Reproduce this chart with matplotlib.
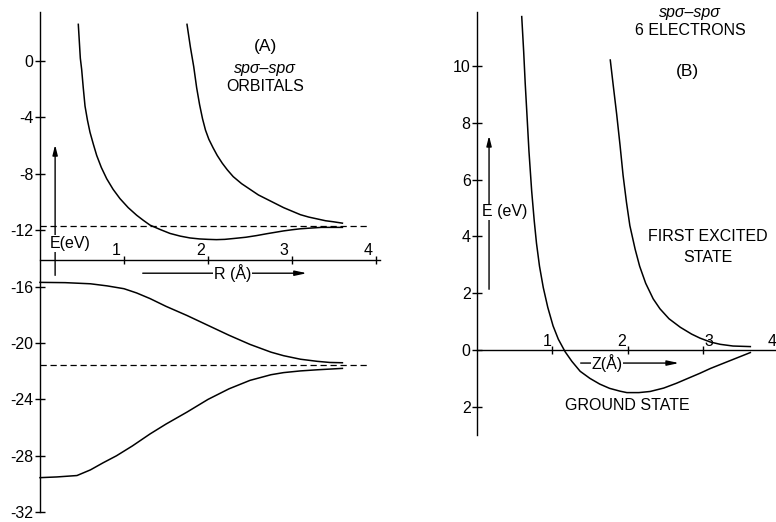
import matplotlib
matplotlib.use('Agg')
import matplotlib.pyplot as plt

plt.rcParams['font.family'] = ['Liberation Sans', 'DejaVu Sans']

# ---- panel A: spσ-spσ orbitals, E(eV) vs R(Å)
a_bond_up_r = [0.456, 0.47, 0.48, 0.496, 0.515, 0.536, 0.565, 0.595, 0.635, 0.675,
               0.73, 0.794, 0.87, 0.952, 1.05, 1.151, 1.23, 1.31, 1.43, 1.548,
               1.67, 1.786, 1.9, 2.0, 2.1, 2.2, 2.32, 2.45, 2.58, 2.7, 2.8, 2.9,
               3.0, 3.1, 3.22, 3.35, 3.48, 3.6]
a_bond_up_e = [2.6, 1.2, 0.2, -0.6, -1.9, -3.2, -4.2, -5.05, -5.9, -6.7,
               -7.55, -8.35, -9.1, -9.76, -10.4, -10.94, -11.3, -11.64, -11.95, -12.23,
               -12.42, -12.55, -12.62, -12.65, -12.67, -12.65, -12.58, -12.5, -12.38, -12.25,
               -12.15, -12.05, -11.97, -11.9, -11.85, -11.8, -11.8, -11.8]
a_anti_up_r = [1.75, 1.77, 1.79, 1.81, 1.83, 1.865, 1.9, 1.935, 1.97, 2.01, 2.06,
               2.11, 2.17, 2.23, 2.3, 2.4, 2.5, 2.6, 2.7, 2.8, 2.9, 3.0, 3.1, 3.2,
               3.3, 3.4, 3.49, 3.6]
a_anti_up_e = [2.6, 1.8, 1.0, 0.3, -0.4, -1.9, -3.1, -4.1, -4.9, -5.55, -6.15,
               -6.7, -7.25, -7.72, -8.2, -8.7, -9.1, -9.5, -9.8, -10.1, -10.4, -10.65,
               -10.9, -11.07, -11.2, -11.33, -11.4, -11.5]
a_anti_lo_r = [0.0, 0.3, 0.6, 0.8, 1.0, 1.15, 1.31, 1.5, 1.75, 2.0, 2.25, 2.5,
               2.75, 2.9, 3.1, 3.3, 3.45, 3.6]
a_anti_lo_e = [-15.7, -15.72, -15.8, -15.95, -16.15, -16.45, -16.85, -17.4, -18.05,
               -18.75, -19.45, -20.1, -20.65, -20.9, -21.15, -21.3, -21.38, -21.4]
a_bond_lo_r = [0.0, 0.2, 0.44, 0.6, 0.75, 0.91, 1.1, 1.31, 1.5, 1.75, 2.0, 2.25,
               2.5, 2.75, 2.9, 3.1, 3.3, 3.45, 3.6]
a_bond_lo_e = [-29.55, -29.5, -29.4, -29.0, -28.5, -28.0, -27.3, -26.45, -25.75,
               -24.9, -24.0, -23.25, -22.65, -22.25, -22.1, -21.98, -21.9, -21.85, -21.8]
a_levels = [-11.67, -21.55]
a_yticks = [0, -4, -8, -12, -16, -20, -24, -28, -32]
a_xticks = [1, 2, 3, 4]

# ---- panel B: 6 electrons, E(eV) vs Z(Å)
b_ground_z = [0.594, 0.62, 0.64, 0.66, 0.69, 0.726, 0.76, 0.79, 0.83, 0.88, 0.94,
              1.01, 1.08, 1.17, 1.26, 1.37, 1.5, 1.63, 1.76, 1.9, 1.99, 2.15, 2.3,
              2.48, 2.65, 2.8, 2.96, 3.1, 3.27, 3.45, 3.63]
b_ground_e = [11.74, 10.5, 9.4, 8.45, 7.0, 5.6, 4.55, 3.76, 2.95, 2.2, 1.5,
              0.85, 0.38, -0.06, -0.4, -0.75, -1.0, -1.2, -1.35, -1.45, -1.5, -1.5,
              -1.46, -1.34, -1.17, -1.0, -0.82, -0.65, -0.47, -0.28, -0.09]
b_excit_z = [1.77, 1.81, 1.855, 1.9, 1.94, 1.985, 2.03, 2.1, 2.16, 2.24, 2.34, 2.43,
             2.55, 2.7, 2.85, 2.96, 3.1, 3.23, 3.4, 3.63]
b_excit_e = [10.21, 9.3, 8.3, 7.2, 6.15, 5.2, 4.38, 3.55, 2.95, 2.35, 1.8, 1.45,
             1.1, 0.8, 0.56, 0.42, 0.28, 0.2, 0.14, 0.12]
b_yticks = [10, 8, 6, 4, 2, 0, -2]
b_yticklabels = ['10', '8', '6', '4', '2', '0', '2']
b_xticks = [1, 2, 3, 4]

W, H = 776, 522
fig = plt.figure(figsize=(W / 100, H / 100), dpi=100)
fig.patch.set_facecolor('white')

FS = 11.5
LW = 1.1


def setup(ax, yticks, ylabels, xaxis_at, ybounds, xbounds):
    for s in ('top', 'right'):
        ax.spines[s].set_visible(False)
    ax.spines['left'].set_position(('data', 0))
    ax.spines['bottom'].set_position(('data', xaxis_at))
    ax.spines['left'].set_bounds(*ybounds)
    ax.spines['bottom'].set_bounds(*xbounds)
    for s in ('left', 'bottom'):
        ax.spines[s].set_linewidth(1.0)
    ax.set_yticks(yticks)
    ax.set_yticklabels(ylabels)
    ax.tick_params(axis='y', direction='inout', length=7, width=1, labelsize=FS, pad=1)
    ax.tick_params(axis='x', direction='inout', length=6, width=1, labelbottom=False)
    ax.patch.set_alpha(0)


# panel A: pixel mapping x = 40 + 84 R, y = 61 - 14.1 E
axA = fig.add_axes([0, 0, 400 / W, 1])
axA.set_xlim(-40 / 84, 360 / 84)
axA.set_ylim((61 - H) / 14.1, 61 / 14.1)
a_axis_e = -14.1
setup(axA, a_yticks, [str(t) for t in a_yticks], a_axis_e, (-32, 3.5), (0, 4.05))
axA.set_xticks(a_xticks)
for t in a_xticks:
    axA.text(t - 0.04, a_axis_e + 0.15, str(t), ha='right', va='bottom', fontsize=FS)

for r, e in [(a_bond_up_r, a_bond_up_e), (a_anti_up_r, a_anti_up_e),
             (a_anti_lo_r, a_anti_lo_e), (a_bond_lo_r, a_bond_lo_e)]:
    axA.plot(r, e, color='black', lw=LW)
for lv in a_levels:
    axA.plot([0, 3.89], [lv, lv], color='black', lw=0.9, ls=(0, (5, 3)))

axA.annotate('', xy=(0.18, -5.75), xytext=(0.18, -15.4),
             arrowprops=dict(arrowstyle='-|>,head_length=0.6,head_width=0.15',
                             color='black', lw=1.0))
axA.text(0.36, -12.95, 'E(eV)', ha='center', va='center', fontsize=FS,
         bbox=dict(facecolor='white', edgecolor='none', pad=0.5))
axA.annotate('', xy=(3.21, -15.05), xytext=(1.19, -15.05),
             arrowprops=dict(arrowstyle='-|>,head_length=0.7,head_width=0.15',
                             color='black', lw=1.0))
axA.text(2.29, -15.05, 'R (Å)', ha='center', va='center', fontsize=FS,
         bbox=dict(facecolor='white', edgecolor='none', pad=0.5))
axA.text(2.68, 1.0, '(A)', ha='center', va='center', fontsize=FS + 1)
axA.text(2.68, -0.5, 'spσ–spσ', ha='center', va='center', fontsize=FS, style='italic')
axA.text(2.68, -1.8, 'ORBITALS', ha='center', va='center', fontsize=FS)

# panel B: pixel mapping x = 477 + 75.3 Z, y = 350 - 28.4 E
axB = fig.add_axes([400 / W, 0, 376 / W, 1])
axB.set_xlim((400 - 477) / 75.3, (776 - 477) / 75.3)
axB.set_ylim((350 - H) / 28.4, 350 / 28.4)
setup(axB, b_yticks, b_yticklabels, 0, (-3.0, 11.9), (0, 4.0))
axB.set_xticks(b_xticks[:3])
b_lab_dx = [-0.07, -0.08, 0.08, -0.08]
for t, dx in zip(b_xticks, b_lab_dx):
    axB.text(t + dx, 0.05, str(t), ha='center', va='bottom', fontsize=FS)

axB.plot(b_ground_z, b_ground_e, color='black', lw=LW)
axB.plot(b_excit_z, b_excit_e, color='black', lw=LW)

axB.annotate('', xy=(0.16, 7.64), xytext=(0.16, 2.04),
             arrowprops=dict(arrowstyle='-|>,head_length=0.6,head_width=0.15',
                             color='black', lw=1.0))
axB.text(0.37, 4.86, 'E (eV)', ha='center', va='center', fontsize=FS,
         bbox=dict(facecolor='white', edgecolor='none', pad=0.5))
axB.annotate('', xy=(2.72, -0.46), xytext=(1.34, -0.46),
             arrowprops=dict(arrowstyle='-|>,head_length=0.7,head_width=0.15',
                             color='black', lw=1.0))
axB.text(1.73, -0.46, 'Z(Å)', ha='center', va='center', fontsize=FS,
         bbox=dict(facecolor='white', edgecolor='none', pad=0.5))
axB.text(2.83, 11.9, 'spσ–spσ', ha='center', va='center', fontsize=FS, style='italic')
axB.text(2.83, 11.25, '6 ELECTRONS', ha='center', va='center', fontsize=FS)
axB.text(2.79, 9.8, '(B)', ha='center', va='center', fontsize=FS + 1)
axB.text(3.06, 3.98, 'FIRST EXCITED', ha='center', va='center', fontsize=FS)
axB.text(3.06, 3.27, 'STATE', ha='center', va='center', fontsize=FS)
axB.text(2.0, -1.95, 'GROUND STATE', ha='center', va='center', fontsize=FS)

fig.savefig('out.png', dpi=100, facecolor='white')
